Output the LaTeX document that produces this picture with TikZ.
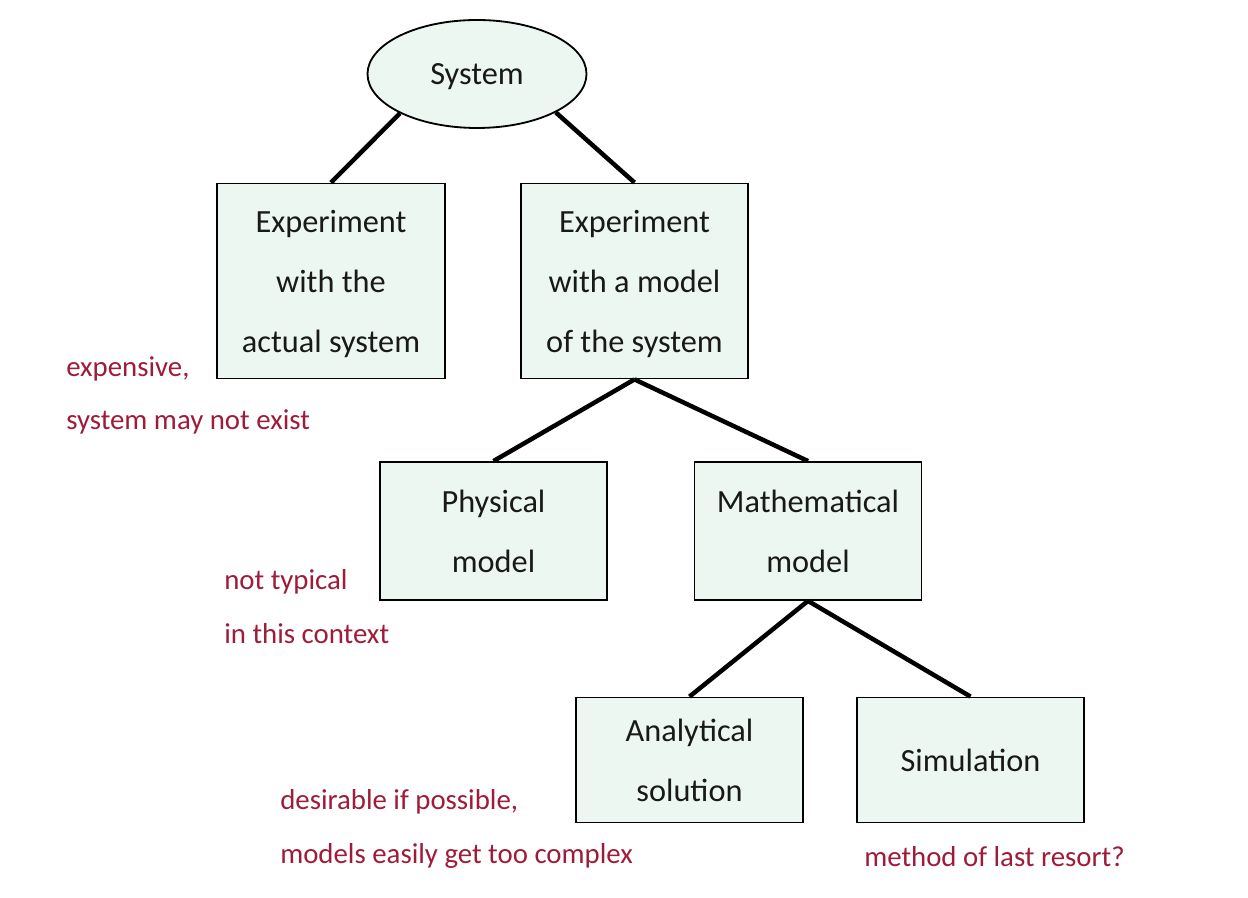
\documentclass[tikz,border=0pt]{standalone}
\usepackage{fontspec}
\setmainfont{Carlito}
\usepackage{xcolor}
\usetikzlibrary{shapes.geometric}
\definecolor{boxfill}{RGB}{237,247,242}
\definecolor{notered}{RGB}{158,28,58}
\definecolor{boxtext}{RGB}{25,25,25}

\begin{document}
\begin{tikzpicture}[
    block/.style={draw=black, line width=1.3pt, fill=boxfill, text=boxtext, align=center,
        font={\fontsize{23}{42.7}\selectfont}, inner sep=0pt, text depth=0pt},
    note/.style={text=notered, align=left, anchor=west, inner sep=0pt,
        font={\fontsize{20.5}{38}\selectfont}},
    branch/.style={black, line width=3.2pt}
]
        \useasboundingbox (0, 0) rectangle (31.2, 22.425);

        \node[block, ellipse, minimum width=5.475cm, minimum height=2.7cm] (sys) at (11.925, 20.575) {System};

        \node[block, minimum width=5.7cm, minimum height=4.875cm] (real) at (8.275, 15.4) {Experiment\\with the\\actual system};
        \node[block, minimum width=5.675cm, minimum height=4.875cm] (model) at (15.8625, 15.4) {Experiment\\with a model\\of the system};

        \node[block, minimum width=5.675cm, minimum height=3.45cm] (phys) at (12.3375, 9.15) {Physical\\model};
        \node[block, minimum width=5.675cm, minimum height=3.45cm] (math) at (20.2, 9.15) {Mathematical\\model};

        \node[block, minimum width=5.675cm, minimum height=3.125cm] (anal) at (17.2375, 3.425) {Analytical\\solution};
        \node[block, minimum width=5.675cm, minimum height=3.125cm] (sim) at (24.2625, 3.425) {Simulation};

        \draw[branch] (sys.207) -- (real.north);
        \draw[branch] (sys.334) -- (model.north);
        \draw[branch] (model.south) -- (phys.north);
        \draw[branch] (model.south) -- (math.north);
        \draw[branch] (math.south) -- (anal.north);
        \draw[branch] (math.south) -- (sim.north);

        % remarks
        \node[note] (realnote) at (1.65, 12.54) {expensive,\\system may not exist};
        \node[note] (physnote) at (5.6, 7.26) {not typical\\in this context};
        \node[note] (analnote) at (7.0, 1.70) {desirable if possible,\\models easily get too complex};
        \node[note] (simnote) at (21.6, 1.0) {method of last resort?};
\end{tikzpicture}
\end{document}
